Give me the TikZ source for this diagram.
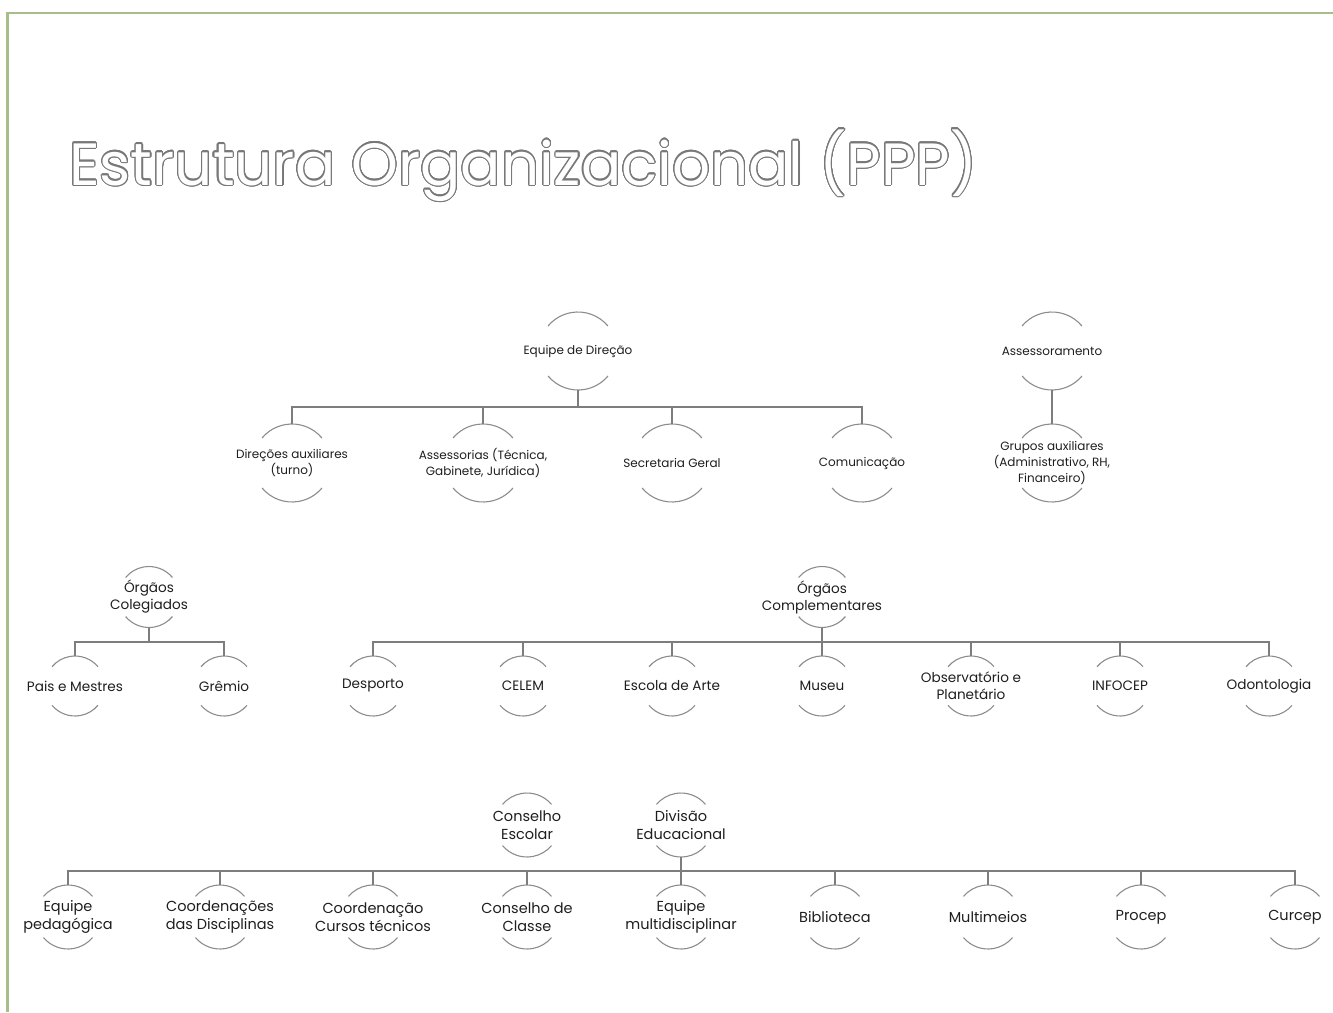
\documentclass[tikz,border=0pt]{standalone}
\usepackage{fontspec}
\setmainfont{Poppins}
\definecolor{framegreen}{RGB}{168,190,138}
\definecolor{linegray}{RGB}{125,125,125}
\definecolor{arcgray}{RGB}{140,140,140}
\definecolor{txt}{RGB}{30,30,30}
\definecolor{titlegray}{RGB}{120,120,120}
\newcommand\mytitletext{\resizebox{908pt}{!}{\fontsize{60}{60}\selectfont Estrutura Organizacional (PPP)}}
\tikzset{
  ring/.style={circle, inner sep=0pt, outer sep=0pt, minimum size=#1},
  arcline/.style={draw=arcgray, line width=1.1pt},
  conn/.style={draw=linegray, line width=1.8pt},
  frameline/.style={draw=framegreen, line width=2.2pt},
  titlenode/.style={anchor=base west, inner sep=0pt},
  tA/.style={text=txt, align=center, font=\fontsize{12}{16}\selectfont},
  tB/.style={text=txt, align=center, font=\fontsize{13.6}{17}\selectfont},
  tC/.style={text=txt, align=center, font=\fontsize{14.5}{18}\selectfont},
}
\begin{document}
\begin{tikzpicture}[x=1pt,y=1pt]
\useasboundingbox (0,0) rectangle (1333,-1012);
% frame
\draw[frameline] (7.5,-1012) -- (7.5,-13) -- (1333,-13);
% title: outlined text (grey rim from shifted copies, white body on top)
\coordinate (tb) at (69,-185);
\foreach \a in {0,15,...,345}
  \node[titlenode, text=titlegray] (tt\a) at ([shift={(\a:1.1)}]tb) {\mytitletext};
\node[titlenode, text=white] (title) at (tb) {\mytitletext};
% ---------- top tree (r = 39)
\node[ring=78pt] (eq) at (578,-351) {};
\node[ring=78pt] (as) at (1052,-351) {};
\node[ring=78pt] (d1) at (292,-463) {};
\node[ring=78pt] (d2) at (483,-463) {};
\node[ring=78pt] (d3) at (672,-463) {};
\node[ring=78pt] (d4) at (862,-463) {};
\node[ring=78pt] (ga) at (1052,-463) {};
\node[tA] (eqt) at (eq) {Equipe de Direção};
\node[tA] (ast) at (as) {Assessoramento};
\node[tA] (d1t) at (d1) {Direções auxiliares\\(turno)};
\node[tA] (d2t) at (d2) {Assessorias (Técnica,\\Gabinete, Jurídica)};
\node[tA] (d3t) at (d3) {Secretaria Geral};
\node[tA] (d4t) at (d4) {Comunicação};
\node[tA] (gat) at (ga) {Grupos auxiliares\\(Administrativo, RH,\\Financeiro)};
% ---------- middle (r = 30)
\node[ring=61pt] (oc) at (149,-597) {};
\node[ring=60pt] (pm) at (75,-686) {};
\node[ring=60pt] (gr) at (224,-686) {};
\node[ring=61pt] (ocp) at (822,-597) {};
\node[ring=60pt] (m1) at (373,-686) {};
\node[ring=60pt] (m2) at (523,-686) {};
\node[ring=60pt] (m3) at (672,-686) {};
\node[ring=60pt] (m4) at (822,-686) {};
\node[ring=60pt] (m5) at (971,-686) {};
\node[ring=60pt] (m6) at (1120,-686) {};
\node[ring=60pt] (m7) at (1269,-686) {};
\node[tB] (oct) at (oc) {Órgãos\\Colegiados};
\node[tB] (pmt) at (pm) {Pais e Mestres};
\node[tB] (grt) at (gr) {Grêmio};
\node[tB] (ocpt) at (ocp) {Órgãos\\Complementares};
\node[tB] (m1t) at (m1) {Desporto};
\node[tB] (m2t) at (m2) {CELEM};
\node[tB] (m3t) at (m3) {Escola de Arte};
\node[tB] (m4t) at (m4) {Museu};
\node[tB] (m5t) at (m5) {Observatório e\\Planetário};
\node[tB] (m6t) at (m6) {INFOCEP};
\node[tB] (m7t) at (m7) {Odontologia};
% ---------- bottom (r = 32)
\node[ring=64pt] (ce) at (527,-825) {};
\node[ring=64pt] (de) at (681,-825) {};
\node[ring=64pt] (b1) at (68,-917) {};
\node[ring=64pt] (b2) at (220,-917) {};
\node[ring=64pt] (b3) at (373,-917) {};
\node[ring=64pt] (b4) at (527,-917) {};
\node[ring=64pt] (b5) at (681,-917) {};
\node[ring=64pt] (b6) at (835,-917) {};
\node[ring=64pt] (b7) at (988,-917) {};
\node[ring=64pt] (b8) at (1141,-917) {};
\node[ring=64pt] (b9) at (1295,-917) {};
\node[tC] (cet) at (ce) {Conselho\\Escolar};
\node[tC] (det) at (de) {Divisão\\Educacional};
\node[tC] (b1t) at (b1) {Equipe\\pedagógica};
\node[tC] (b2t) at (b2) {Coordenações\\das Disciplinas};
\node[tC] (b3t) at (b3) {Coordenação\\Cursos técnicos};
\node[tC] (b4t) at (b4) {Conselho de\\Classe};
\node[tC] (b5t) at (b5) {Equipe\\multidisciplinar};
\node[tC] (b6t) at (b6) {Biblioteca};
\node[tC] (b7t) at (b7) {Multimeios};
\node[tC] (b8t) at (b8) {Procep};
\node[tC] (b9t) at (b9) {Curcep};
% ---------- arcs
\foreach \n/\r in {eq/39,as/39,d1/39,d2/39,d3/39,d4/39,ga/39,
  oc/30.5,pm/30,gr/30,ocp/30.5,m1/30,m2/30,m3/30,m4/30,m5/30,m6/30,m7/30,
  ce/32,de/32,b1/32,b2/32,b3/32,b4/32,b5/32,b6/32,b7/32,b8/32,b9/32}{
  \draw[arcline] (\n.40) arc[start angle=40,end angle=140,radius=\r pt];
  \draw[arcline] (\n.220) arc[start angle=220,end angle=320,radius=\r pt];
}
% ---------- connectors
\foreach \c in {d1,d2,d3,d4}
  \draw[conn] (eq.south) -- ++(0,-17) -| (\c.north);
\draw[conn] (as.south) -- (ga.north);
\foreach \c in {pm,gr}
  \draw[conn] (oc.south) -- ++(0,-14.5) -| (\c.north);
\foreach \c in {m1,m2,m3,m4,m5,m6,m7}
  \draw[conn] (ocp.south) -- ++(0,-14.5) -| (\c.north);
\foreach \c in {b1,b2,b3,b4,b5,b6,b7,b8,b9}
  \draw[conn] (de.south) -- ++(0,-14) -| (\c.north);
\end{tikzpicture}
\end{document}
